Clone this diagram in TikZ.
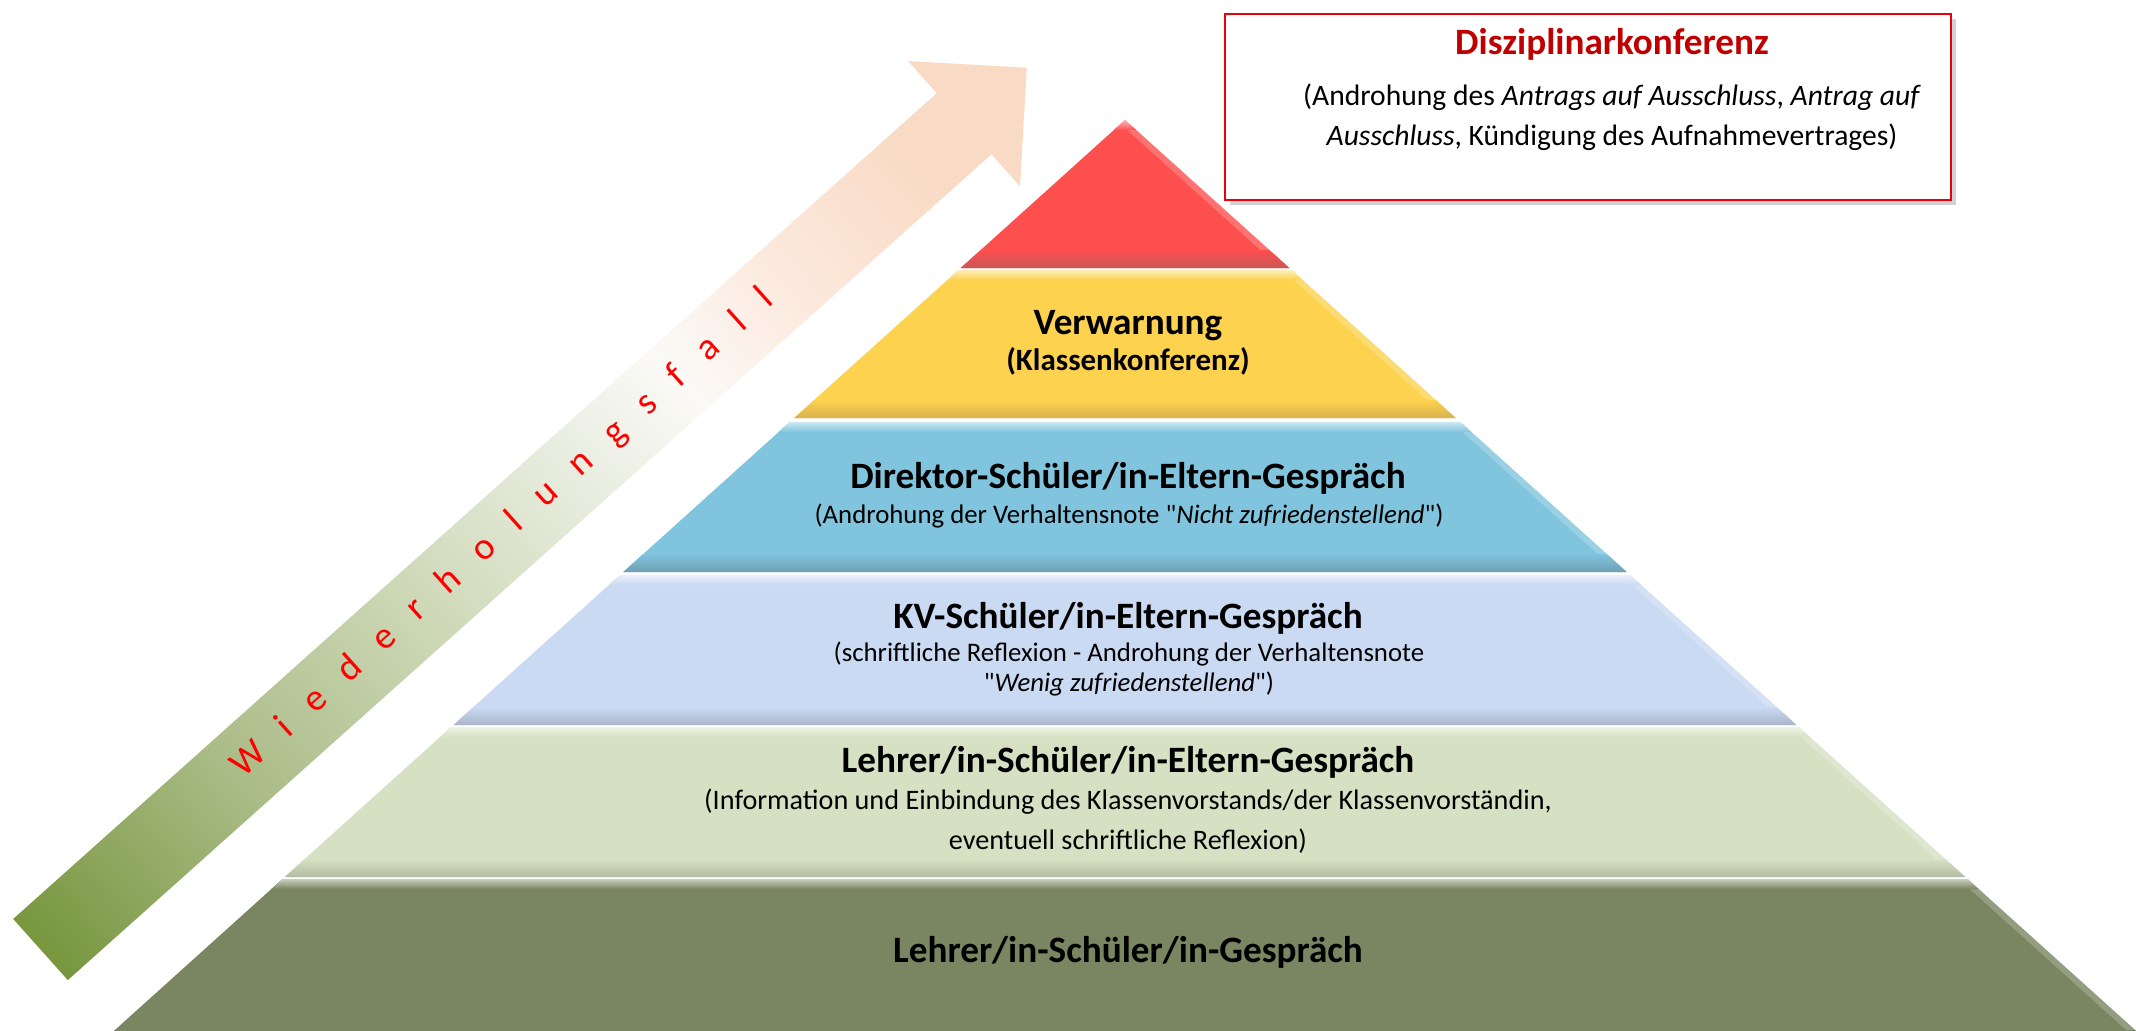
\documentclass[tikz,border=0pt]{standalone}
\usepackage{fontspec}
\setmainfont{Carlito}
\usetikzlibrary{shadows}
\definecolor{dkred}{HTML}{C00000}
\definecolor{boxred}{HTML}{E8000B}
\definecolor{wdhred}{HTML}{FF0000}
\definecolor{lvred}{HTML}{FE4F4F}
\definecolor{lvredd}{HTML}{C95656}
\definecolor{lvyel}{HTML}{FCD24F}
\definecolor{lvyeld}{HTML}{D8B14C}
\definecolor{lvblu}{HTML}{80C4DE}
\definecolor{lvblud}{HTML}{6E9FB3}
\definecolor{lvlav}{HTML}{CADAF3}
\definecolor{lvlavd}{HTML}{A9B6C9}
\definecolor{lvgrn}{HTML}{D6E1C3}
\definecolor{lvgrnd}{HTML}{B3BBA2}
\definecolor{lvolv}{HTML}{7A8561}
\definecolor{lvolvd}{HTML}{6E7857}
\definecolor{argreen}{HTML}{78973F}
\definecolor{armid}{HTML}{A9BB86}
\definecolor{arlight}{HTML}{D0DABA}
\definecolor{arpale}{HTML}{E9EDE0}
\definecolor{arwhite}{HTML}{FBFAF7}
\definecolor{arrose}{HTML}{FCEADF}
\definecolor{arpeach}{HTML}{F9DAC4}
\pgfdeclareverticalshading{wdhshade}{100bp}{color(0bp)=(argreen); color(17bp)=(argreen);
  color(30bp)=(armid); color(44bp)=(arlight); color(54bp)=(arpale); color(61bp)=(arwhite);
  color(68bp)=(arrose); color(78bp)=(arpeach); color(100bp)=(arpeach)}
% one level of the pyramid: top y, bottom y, colour, dark colour
\newcommand{\pyrlevel}[4]{%
  \fill[#3] ({1125-1.11*(#1-120)},#1) -- ({1125+1.11*(#1-120)},#1)
    -- ({1125+1.11*(#2-120)},#2) -- ({1125-1.11*(#2-120)},#2) -- cycle;
  \fill[#3!55!white,opacity=0.45] ({1125+1.11*(#1-120)},#1) -- ({1125+1.11*(#2-120)},#2)
    -- ({1125+1.11*(#2-120)-9},#2) -- ({1125+1.11*(#1-120)},#1+8) -- cycle;
  \shade[top color=#3!40!white, bottom color=#3] ({1125-1.11*(#1-120)},#1) -- ({1125+1.11*(#1-120)},#1)
    -- ({1125+1.11*(#1-110)},#1+10) -- ({1125-1.11*(#1-110)},#1+10) -- cycle;
  \shade[top color=#3, bottom color=#4] ({1125-1.11*(#2-138)},#2-18) -- ({1125+1.11*(#2-138)},#2-18)
    -- ({1125+1.11*(#2-120)},#2) -- ({1125-1.11*(#2-120)},#2) -- cycle;
}
\begin{document}
\begin{tikzpicture}[x=0.5pt,y=-0.5pt]
\tikzstyle{every node}+=[inner sep=0pt]
\tikzstyle{lvltitle}=[anchor=mid,font=\bfseries\fontsize{18.6}{22}\selectfont]
\tikzstyle{lvlsub}=[anchor=mid,font=\fontsize{13.4}{16}\selectfont]
\useasboundingbox (0,0) rectangle (2136,1030);
\fill[white] (0,0) rectangle (2136,1030);
% Wiederholungsfall arrow
\begin{scope}[shift={(40.5,949.5)},rotate=41.8]
\shade[shading=wdhshade,shading angle=-48.2] (0,-41) -- (1239,-41) -- (1239,-84) -- (1323,0)
  -- (1239,84) -- (1239,41) -- (0,41) -- cycle;
\node[transform shape,text=wdhred,font=\fontsize{19}{23}\selectfont] (wdh) at (622,-2)
  {\spaceskip=0.71em\relax W i e d e r h o l u n g s f a l l};
\end{scope}
% pyramid
\pyrlevel{120}{268}{lvred}{lvredd}
\pyrlevel{270}{418}{lvyel}{lvyeld}
\pyrlevel{422}{572}{lvblu}{lvblud}
\pyrlevel{575}{725}{lvlav}{lvlavd}
\pyrlevel{727}{877}{lvgrn}{lvgrnd}
\pyrlevel{879}{1048}{lvolv}{lvolvd}
\node[lvltitle] (verw) at (1128,330) {Verwarnung};
\node[anchor=mid,font=\bfseries\fontsize{15.5}{18}\selectfont] (klk) at (1128,366) {(Klassenkonferenz)};
\node[lvltitle] (dir) at (1128,484) {Direktor-Schüler/in-Eltern-Gespräch};
\node[lvlsub] (dirsub) at (1129,519) {(Androhung der Verhaltensnote \textquotedbl\textit{Nicht zufriedenstellend}\textquotedbl)};
\node[lvltitle] (kv) at (1128,624) {KV-Schüler/in-Eltern-Gespräch};
\node[lvlsub] (kvsub) at (1129,657) {(schriftliche Reflexion - Androhung der Verhaltensnote};
\node[lvlsub] (kvsubb) at (1129,687) {\textquotedbl\textit{Wenig zufriedenstellend}\textquotedbl)};
\node[lvltitle] (lse) at (1128,768) {Lehrer/in-Schüler/in-Eltern-Gespräch};
\node[lvlsub,font=\fontsize{14.1}{17}\selectfont] (lsesub) at (1128,805) {(Information und Einbindung des Klassenvorstands/der Klassenvorständin,};
\node[lvlsub,font=\fontsize{14.1}{17}\selectfont] (lsesubb) at (1128,845) {eventuell schriftliche Reflexion)};
\node[lvltitle] (ls) at (1128,958) {Lehrer/in-Schüler/in-Gespräch};
% Disziplinarkonferenz box
\node[draw=boxred,line width=1.2pt,fill=white,minimum width=363pt,minimum height=93pt,
  drop shadow={shadow xshift=2.5pt,shadow yshift=-2.5pt,opacity=0.35}] (dkbox) at (1588,107) {};
\node[anchor=mid,text=dkred,font=\bfseries\fontsize{18.6}{22}\selectfont] (dk) at (1612,50) {Disziplinarkonferenz};
\node[anchor=mid,font=\fontsize{14.8}{18}\selectfont] (dka) at (1612,101)
  {(Androhung des \textit{Antrags auf Ausschluss}, \textit{Antrag auf}};
\node[anchor=mid,font=\fontsize{14.8}{18}\selectfont] (dkb) at (1612,141)
  {\textit{Ausschluss}, Kündigung des Aufnahmevertrages)};
\end{tikzpicture}
\end{document}
